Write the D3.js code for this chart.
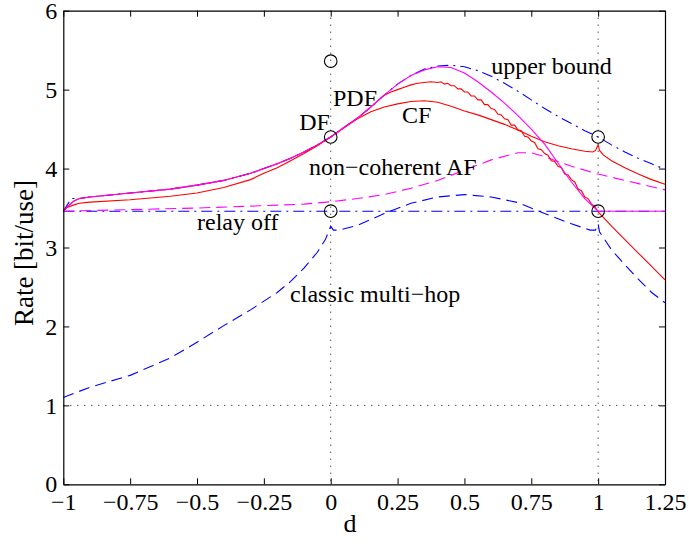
<!DOCTYPE html>
<html>
<head>
<meta charset="utf-8">
<script src="https://cdn.jsdelivr.net/npm/d3@7"></script>
<style>
  body { margin: 0; background: #fff; }
  text { font-family: "Liberation Serif", "Times New Roman", serif; }
</style>
</head>
<body>
<div id="chart"></div>
<script>
// values: [d, rate]
var relayOff = [[-1, 3.46], [1.25, 3.46]];

var upperBound = [[-1,3.46],[-0.97,3.62],[-0.94,3.62],[-0.9,3.64],[-0.75,3.69],[-0.6,3.74],[-0.5,3.79],
    [-0.4,3.85],[-0.3,3.94],[-0.25,4.00],[-0.2,4.06],[-0.15,4.13],[-0.1,4.21],[-0.05,4.30],[0,4.40],
    [0.05,4.52],[0.1,4.64],[0.15,4.78],[0.2,4.93],[0.25,5.07],[0.3,5.18],[0.35,5.26],[0.4,5.30],
    [0.45,5.31],[0.5,5.29],[0.55,5.24],[0.6,5.17],[0.65,5.08],[0.7,4.98],[0.75,4.87],[0.8,4.76],
    [0.85,4.66],[0.9,4.57],[0.95,4.48],[1.0,4.40],[1.05,4.30],[1.1,4.21],[1.15,4.13],[1.2,4.06],[1.25,3.99]];

var pdf = [[-1,3.46],[-0.98,3.53],[-0.96,3.59],[-0.94,3.62],[-0.9,3.64],[-0.75,3.69],[-0.6,3.74],
    [-0.5,3.79],[-0.4,3.85],[-0.3,3.94],[-0.25,4.00],[-0.2,4.06],[-0.15,4.13],[-0.1,4.21],[-0.05,4.30],
    [0,4.40],[0.05,4.52],[0.1,4.64],[0.15,4.78],[0.2,4.93],[0.25,5.07],[0.3,5.18],[0.35,5.25],
    [0.4,5.29],[0.45,5.28],[0.5,5.21],[0.55,5.10],[0.6,4.97],[0.65,4.83],[0.7,4.67],[0.75,4.50],
    [0.8,4.31],[0.85,4.07],[0.9,3.83],[0.95,3.62],[1.0,3.46],[1.25,3.46]];

var df = [[-1,3.46],[-0.98,3.53],[-0.96,3.59],[-0.94,3.62],[-0.9,3.64],[-0.75,3.69],[-0.6,3.74],
    [-0.5,3.79],[-0.4,3.85],[-0.3,3.94],[-0.25,4.00],[-0.2,4.06],[-0.15,4.13],[-0.1,4.21],[-0.05,4.30],
    [0,4.40],[0.05,4.52],[0.1,4.64],[0.15,4.78],[0.2,4.93],[0.225,4.97],[0.25,5.00],[0.275,5.03],
    [0.3,5.06],[0.325,5.08],[0.35,5.09],[0.375,5.10],[0.4,5.09],[0.4125,5.10],[0.425,5.07],[0.4375,5.08],
    [0.45,5.05],[0.4625,5.05],[0.475,5.01],[0.4875,5.01],[0.5,4.97],[0.5125,4.97],[0.525,4.92],
    [0.5375,4.92],[0.55,4.87],[0.5625,4.87],[0.575,4.81],[0.5875,4.81],[0.6,4.76],[0.6125,4.75],
    [0.625,4.69],[0.6375,4.68],[0.65,4.63],[0.6625,4.62],[0.675,4.55],[0.6875,4.55],[0.7,4.49],
    [0.7125,4.48],[0.725,4.41],[0.7375,4.40],[0.75,4.35],[0.7625,4.33],[0.775,4.25],[0.7875,4.24],
    [0.8,4.19],[0.8125,4.17],[0.825,4.10],[0.8375,4.09],[0.85,4.03],[0.8625,4.01],[0.875,3.93],
    [0.8875,3.92],[0.9,3.86],[0.9125,3.83],[0.925,3.74],[0.9375,3.72],[0.95,3.64],[0.9625,3.62],
    [0.975,3.55],[0.9875,3.52],[1.0,3.45],[1.05,3.27],[1.1,3.10],[1.15,2.93],[1.2,2.76],[1.25,2.59]];

var cf = [[-1,3.46],[-0.99,3.50],[-0.96,3.54],[-0.94,3.56],[-0.9,3.575],[-0.75,3.605],[-0.6,3.65],
    [-0.5,3.69],[-0.4,3.76],[-0.3,3.86],[-0.25,3.94],[-0.2,4.01],[-0.15,4.10],[-0.1,4.19],[-0.05,4.29],
    [0,4.40],[0.05,4.52],[0.1,4.63],[0.15,4.72],[0.2,4.78],[0.25,4.82],[0.3,4.85],[0.35,4.86],
    [0.4,4.84],[0.45,4.79],[0.5,4.73],[0.55,4.68],[0.6,4.62],[0.65,4.56],[0.7,4.49],[0.75,4.41],
    [0.8,4.34],[0.85,4.29],[0.9,4.25],[0.95,4.22],[0.98,4.21],[0.99,4.23],[1.0,4.30],[1.005,4.23],
    [1.02,4.17],[1.05,4.10],[1.1,4.01],[1.15,3.93],[1.2,3.86],[1.25,3.80]];

var ncAF = [[-1,3.46],[-0.75,3.48],[-0.5,3.50],[-0.25,3.53],[-0.1,3.55],[0,3.58],[0.1,3.62],
    [0.2,3.67],[0.3,3.75],[0.4,3.85],[0.5,3.98],[0.6,4.11],[0.7,4.20],[0.75,4.20],[0.8,4.15],
    [0.9,4.03],[1.0,3.93],[1.1,3.85],[1.25,3.73]];

var multiHop = [[-1,1.10],[-0.9,1.23],[-0.75,1.38],[-0.6,1.60],[-0.5,1.80],[-0.4,2.01],[-0.3,2.21],
    [-0.2,2.43],[-0.15,2.57],[-0.1,2.74],[-0.05,2.94],[-0.02,3.10],[0,3.27],[0.01,3.22],[0.03,3.22],
    [0.1,3.28],[0.2,3.43],[0.3,3.56],[0.4,3.64],[0.5,3.67],[0.6,3.64],[0.7,3.57],[0.8,3.43],
    [0.9,3.30],[0.97,3.22],[0.99,3.22],[1.0,3.30],[1.005,3.20],[1.05,2.97],[1.1,2.78],[1.15,2.60],
    [1.2,2.43],[1.25,2.30]];

var circD = [0, 0, 0, 1, 1];
var circR = [5.36, 4.40, 3.46, 4.40, 3.46];

var xTicks = [-1, -0.75, -0.5, -0.25, 0, 0.25, 0.5, 0.75, 1, 1.25];
var yTicks = [0, 1, 2, 3, 4, 5, 6];

var labelText = ["upper bound", "PDF", "DF", "CF", "non\u2212coherent AF", "relay off", "classic multi\u2212hop"];
var labelD    = [0.600, 0.0085, -0.118, 0.267, -0.081, -0.50, -0.152];
var labelR    = [5.20, 4.79, 4.49, 4.58, 3.92, 3.22, 2.31];

var margin = {top: 10.7, right: 24, bottom: 63.7, left: 63.3},
    width = 689 - margin.left - margin.right,
    height = 548 - margin.top - margin.bottom;

var svg = d3.select("#chart").append("svg")
    .attr("width", 689)
    .attr("height", 548)
    .append("g")
    .attr("transform", "translate(" + margin.left + "," + margin.top + ")");

var xScale = d3.scaleLinear().domain([-1, 1.25]).range([0, width]);
var yScale = d3.scaleLinear().domain([0, 6]).range([height, 0]);

// dotted grid at d=0, d=1, rate=1
var dotted = "1,6";
[0, 1].forEach(function(v) {
    svg.append("line")
        .attr("x1", xScale(v)).attr("x2", xScale(v))
        .attr("y1", 0).attr("y2", height)
        .attr("stroke", "#000").attr("stroke-width", 1)
        .attr("stroke-dasharray", dotted);
});
svg.append("line")
    .attr("x1", 0).attr("x2", width)
    .attr("y1", yScale(1)).attr("y2", yScale(1))
    .attr("stroke", "#000").attr("stroke-width", 1)
    .attr("stroke-dasharray", dotted);

var line = d3.line()
    .x(function(d) { return xScale(d[0]); })
    .y(function(d) { return yScale(d[1]); });

var series = [
    {data: relayOff,   color: "#0000ff", dash: "11,5,2,5"},
    {data: ncAF,       color: "#ff00ff", dash: "11,6"},
    {data: multiHop,   color: "#0000ff", dash: "11,6"},
    {data: upperBound, color: "#0000ff", dash: "11,5,2,5"},
    {data: cf,         color: "#ff0000", dash: null},
    {data: df,         color: "#ff0000", dash: null},
    {data: pdf,        color: "#ff00ff", dash: null}
];

svg.append("g")
    .selectAll("path")
    .data(series)
    .join("path")
    .attr("d", function(s) { return line(s.data); })
    .attr("fill", "none")
    .attr("stroke", function(s) { return s.color; })
    .attr("stroke-width", 1.1)
    .attr("stroke-dasharray", function(s) { return s.dash; });

svg.append("g")
    .selectAll("circle")
    .data(circD)
    .join("circle")
    .attr("cx", function(d) { return xScale(d); })
    .attr("cy", function(d, i) { return yScale(circR[i]); })
    .attr("r", 6.3)
    .attr("fill", "none")
    .attr("stroke", "#000")
    .attr("stroke-width", 1.1);

svg.append("g")
    .selectAll("text")
    .data(labelText)
    .join("text")
    .attr("x", function(d, i) { return xScale(labelD[i]); })
    .attr("y", function(d, i) { return yScale(labelR[i]); })
    .attr("font-size", 24)
    .attr("fill", "#000")
    .text(function(d) { return d; });

// axes, ticks pointing inside like matlab
function styleAxis(g) {
    g.selectAll(".domain").attr("stroke", "#000").attr("stroke-width", 1.2);
    g.selectAll(".tick line").attr("stroke", "#000").attr("stroke-width", 1);
    g.selectAll(".tick text").attr("font-size", 24).attr("fill", "#000")
        .attr("font-family", "Liberation Serif, Times New Roman, serif");
}

svg.append("g")
    .attr("transform", "translate(0," + height + ")")
    .call(d3.axisBottom(xScale).tickValues(xTicks).tickSize(-6).tickSizeOuter(0).tickPadding(9)
        .tickFormat(d3.format("")))
    .call(styleAxis);

svg.append("g")
    .call(d3.axisTop(xScale).tickValues(xTicks).tickSize(-6).tickSizeOuter(0).tickFormat(""))
    .call(styleAxis);

svg.append("g")
    .call(d3.axisLeft(yScale).tickValues(yTicks).tickSize(-6).tickSizeOuter(0).tickPadding(6)
        .tickFormat(d3.format("")))
    .call(styleAxis);

svg.append("g")
    .attr("transform", "translate(" + width + ",0)")
    .call(d3.axisRight(yScale).tickValues(yTicks).tickSize(-6).tickSizeOuter(0).tickFormat(""))
    .call(styleAxis);

svg.append("text")
    .attr("text-anchor", "middle")
    .attr("x", 350 - margin.left)
    .attr("y", 532 - margin.top)
    .attr("font-size", 26)
    .text("d");

svg.append("text")
    .attr("text-anchor", "middle")
    .attr("transform", "translate(" + (33 - margin.left) + "," + (253 - margin.top) + ") rotate(-90)")
    .attr("font-size", 27)
    .text("Rate [bit/use]");
</script>
</body>
</html>
